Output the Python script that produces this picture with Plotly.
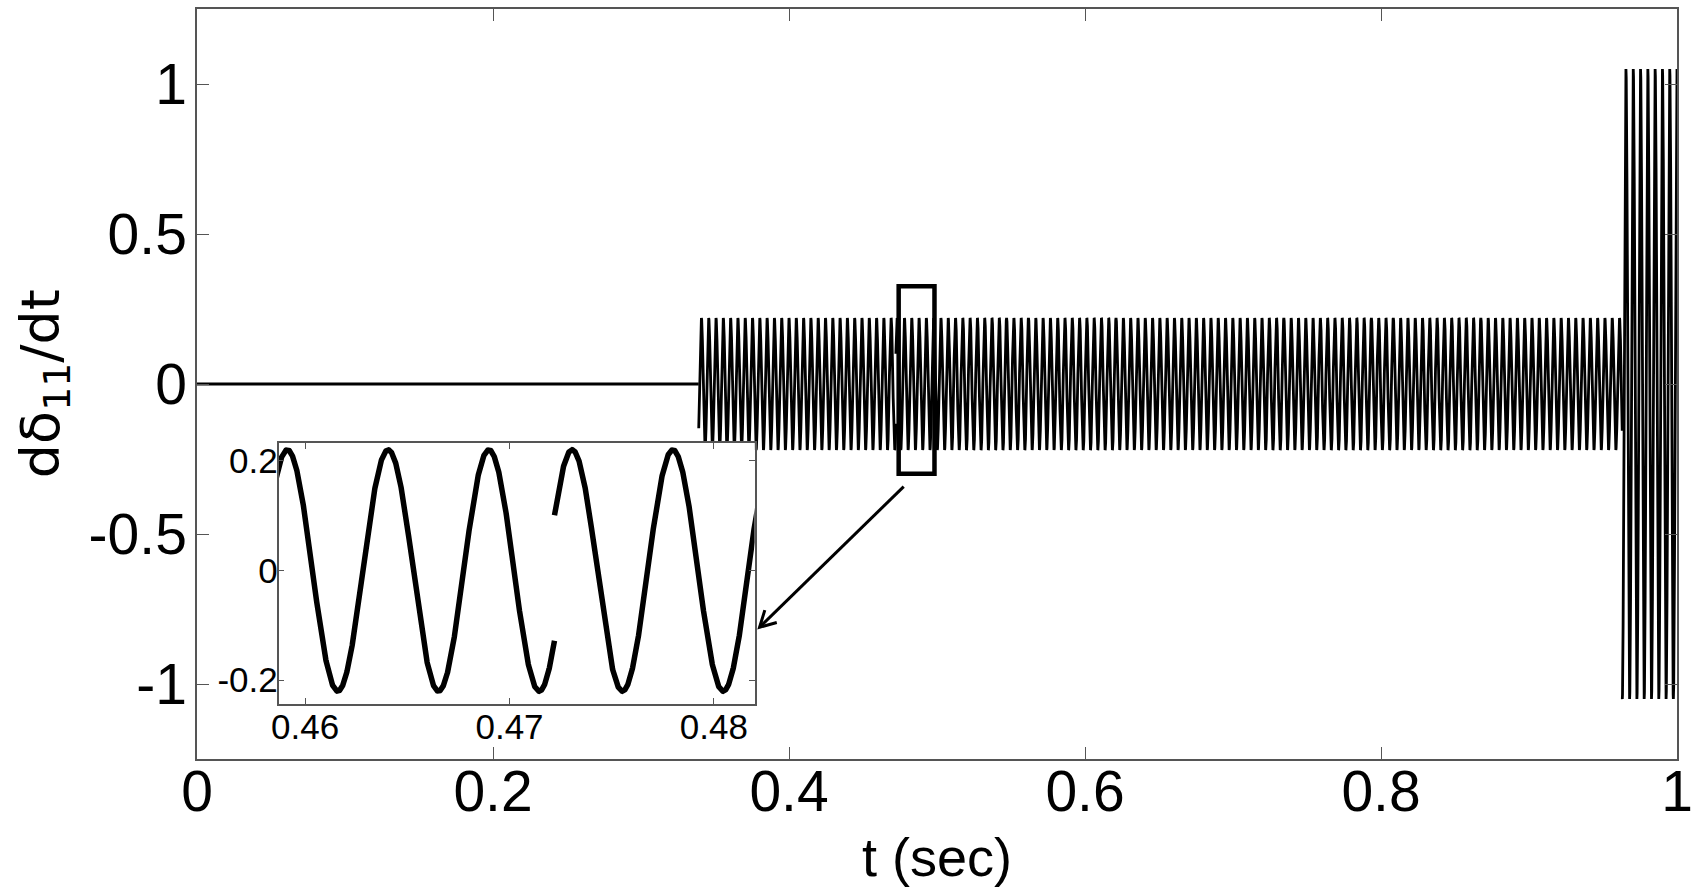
import numpy as np
import plotly.graph_objects as go

# signal: a ~203 Hz oscillation switched on at t=0.339,
# a phase jump at t=0.4722 and a large swing after t=0.963
seg_start = [0.339, 0.4722, 0.963]
seg_end = [0.4722, 0.963, 1.0]
seg_amp = [0.22, 0.22, 1.05]
seg_crest = [0.45913, 0.47306, 0.9655]   # time of one crest in each segment
period = 0.00493

x_ticks = [0, 0.2, 0.4, 0.6, 0.8, 1]
x_labels = ["0", "0.2", "0.4", "0.6", "0.8", "1"]
y_ticks = [-1, -0.5, 0, 0.5, 1]
y_labels = ["-1", "-0.5", "0", "0.5", "1"]
inset_x_ticks = [0.46, 0.47, 0.48]
inset_x_labels = ["0.46", "0.47", "0.48"]
inset_y_ticks = [-0.2, 0, 0.2]
inset_y_labels = ["-0.2", "0", "0.2"]

zoom_box = [0.4741, 0.4983, -0.299, 0.326]   # x0, x1, y0, y1
arrow_tail = [0.4775, -0.342]
arrow_head = [0.3801, -0.811]

W, H = 1700, 893
ml, mr, mt, mb = 197, 14, 7, 134
xr = [0, 1]
yr = [-1.25, 1.25]
inset_xr = [0.4587, 0.48199]
inset_yr = [-0.2436, 0.2327]


def build(step, lo=0.0, hi=1.0):
    ts, ys = [0.0, seg_start[0]], [0.0, 0.0]
    for s, e, a, c in zip(seg_start, seg_end, seg_amp, seg_crest):
        s2, e2 = max(s, lo), min(e, hi)
        if e2 <= s2:
            continue
        t = np.arange(s2, e2, step)
        ts += [None] + list(np.round(t, 6))
        ys += [None] + list(np.round(a * np.cos(2 * np.pi * (t - c) / period), 4))
    return ts, ys


t_main, y_main = build(2e-5)
t_in, y_in = build(1e-5, inset_xr[0] - 0.001, inset_xr[1] + 0.001)

fig = go.Figure()
fig.add_trace(go.Scatter(x=t_main, y=y_main, mode="lines",
                         line=dict(color="black", width=2.8), connectgaps=False,
                         xaxis="x", yaxis="y", showlegend=False))
fig.add_trace(go.Scatter(x=t_in, y=y_in, mode="lines",
                         line=dict(color="black", width=5.5), connectgaps=False,
                         xaxis="x2", yaxis="y2", showlegend=False))

pw, ph = W - ml - mr, H - mt - mb
tick_font = dict(family="Liberation Sans, Arial", size=57, color="black")
small_font = dict(family="Liberation Sans, Arial", size=35, color="black")
frame = dict(showline=True, linecolor="#555", linewidth=1.5, mirror="ticks",
             ticks="inside", tickcolor="#555", showgrid=False, zeroline=False)

fig.update_layout(
    width=W, height=H,
    margin=dict(l=ml, r=mr, t=mt, b=mb),
    plot_bgcolor="white", paper_bgcolor="white",
    xaxis=dict(range=xr, tickvals=x_ticks, ticktext=x_labels, ticklen=12,
               tickfont=tick_font, domain=[0, 1], ticklabeloverflow="allow",
               ticklabelstandoff=-18, **frame),
    yaxis=dict(range=yr, tickvals=y_ticks, ticktext=y_labels, ticklen=12,
               tickfont=tick_font, domain=[0, 1], ticklabelstandoff=-3, **frame),
    xaxis2=dict(range=inset_xr, tickvals=inset_x_ticks, ticktext=inset_x_labels,
                ticklen=6, tickfont=small_font, anchor="y2", ticklabelstandoff=-9,
                domain=[(279 - ml) / pw, (758 - ml) / pw], **frame),
    yaxis2=dict(range=inset_yr, tickvals=inset_y_ticks, ticktext=inset_y_labels,
                ticklen=6, tickfont=small_font, anchor="x2", ticklabelstandoff=-8,
                domain=[(H - mb - 704) / ph, (H - mb - 442) / ph], **frame),
)

# zoom rectangle
fig.add_shape(type="rect", xref="x", yref="y",
              x0=zoom_box[0], x1=zoom_box[1], y0=zoom_box[2], y1=zoom_box[3],
              line=dict(color="black", width=4.5))

# arrow with an open V head
px_x = pw / (xr[1] - xr[0])
px_y = ph / (yr[1] - yr[0])
ux = (arrow_tail[0] - arrow_head[0]) * px_x
uy = (arrow_tail[1] - arrow_head[1]) * px_y
n = np.hypot(ux, uy)
ux, uy = ux / n, uy / n
arms = []
for ang in (0.5, -0.5):
    ca, sa = np.cos(ang), np.sin(ang)
    rx, ry = ux * ca - uy * sa, ux * sa + uy * ca
    arms.append((arrow_head[0] + 18 * rx / px_x, arrow_head[1] + 18 * ry / px_y))
fig.add_shape(type="line", xref="x", yref="y",
              x0=arrow_tail[0], y0=arrow_tail[1], x1=arrow_head[0], y1=arrow_head[1],
              line=dict(color="black", width=3))
fig.add_shape(type="path", xref="x", yref="y",
              path=f"M {arms[0][0]} {arms[0][1]} L {arrow_head[0]} {arrow_head[1]} L {arms[1][0]} {arms[1][1]}",
              line=dict(color="black", width=3))

# axis titles
fig.add_annotation(text="t (sec)", xref="paper", yref="paper",
                   x=0.5, y=(H - mb - 857) / ph, xanchor="center", yanchor="middle",
                   showarrow=False,
                   font=dict(family="Liberation Sans, Arial", size=54, color="black"))
fig.add_annotation(text="dδ<sub>11</sub>/dt", xref="paper", yref="paper",
                   x=(6 - ml) / pw, y=0.5, xanchor="left", yanchor="middle",
                   textangle=-90, showarrow=False,
                   font=dict(family="DejaVu Sans", size=54, color="black"))

fig.write_html("out.html", config={"displayModeBar": False},
               post_script="document.body.style.margin='0';")
